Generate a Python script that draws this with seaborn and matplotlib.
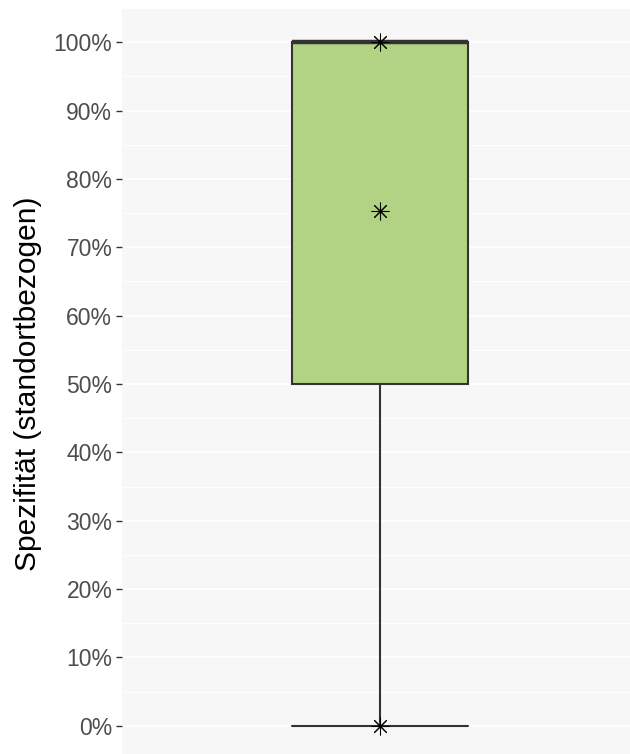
import numpy as np
import pandas as pd
import matplotlib
matplotlib.use("Agg")
import matplotlib.pyplot as plt
import seaborn as sns
from matplotlib.ticker import MultipleLocator, FuncFormatter

# Site-level specificity values (percent) and their mean
spezifitaet = [0, 100, 100]
punkte = [0, 100]
mittelwert = 75.3
gruppe = ["Gesamt"]

df = pd.DataFrame({"gruppe": gruppe * len(spezifitaet), "wert": spezifitaet})

sns.set_theme(style="white")
plt.rcParams["font.family"] = ["Liberation Sans", "DejaVu Sans"]

fig = plt.figure(figsize=(6.3, 7.54), dpi=100)
ax = fig.add_axes([122 / 630, -6 / 754, 516 / 630, 752 / 754])
ax.set_facecolor("#F7F7F7")

line_col = "#333333"
sns.boxplot(data=df, x="gruppe", y="wert", ax=ax, whis=np.inf, width=0.41,
            color="#B3D384", saturation=1, linewidth=1.5, linecolor=line_col,
            medianprops=dict(linewidth=3.2, color=line_col),
            whiskerprops=dict(linewidth=1.5, color=line_col),
            capprops=dict(linewidth=1.5, color=line_col), capwidths=0.41,
            zorder=3)

# individual values and mean as asterisks
ast = (8, 2, 0)
ax.scatter([0] * len(punkte), punkte, marker=ast, s=150, color="black",
           linewidths=0.75, zorder=5)
ax.scatter([0], [mittelwert], marker=ast, s=150, color="black",
           linewidths=0.75, zorder=5)

ax.set_xlim(-0.6, 0.6)
ax.set_ylim(-5, 105)
ax.yaxis.set_major_locator(MultipleLocator(10))
ax.yaxis.set_minor_locator(MultipleLocator(5))
ax.yaxis.set_major_formatter(FuncFormatter(lambda v, p: f"{v:.0f}%"))
ax.grid(True, which="major", axis="y", color="white", linewidth=1.4, zorder=0)
ax.grid(True, which="minor", axis="y", color="white", linewidth=0.7, zorder=0)
ax.set_axisbelow(True)
for s in ax.spines.values():
    s.set_visible(False)
ax.set_xticks([])
ax.set_xlabel("")
ax.tick_params(axis="y", which="major", left=True, length=4, width=1,
               color="#333333", labelsize=16.5, labelcolor="#4D4D4D", pad=3)
ax.tick_params(axis="y", which="minor", left=False)
ax.set_ylabel("Spezifität (standortbezogen)", fontsize=21.5, color="black",
              labelpad=8)

fig.savefig("out.png", dpi=100)
